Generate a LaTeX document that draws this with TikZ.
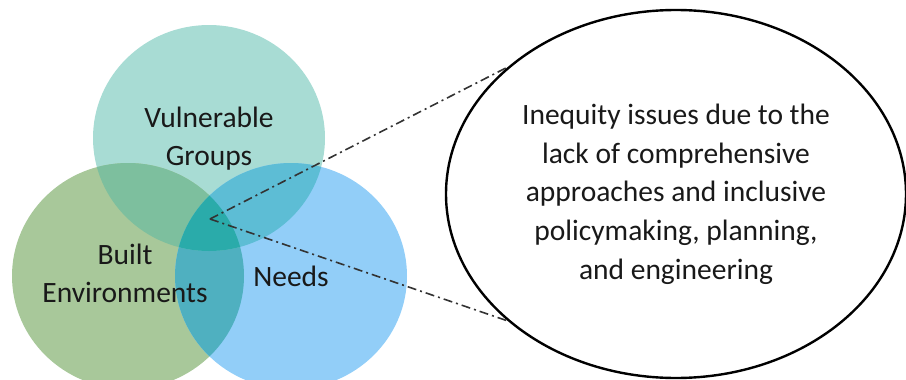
\documentclass[tikz,border=0pt]{standalone}
\usepackage{fontspec}
\setmainfont{Carlito}
\usetikzlibrary{shapes.geometric}

\definecolor{vgfill}{HTML}{A8DCD4}
\definecolor{befill}{HTML}{A8C89A}
\definecolor{ndfill}{HTML}{92CEF8}
\definecolor{vbfill}{HTML}{7DBF9E}
\definecolor{vnfill}{HTML}{5DBDD5}
\definecolor{bnfill}{HTML}{4FB0C0}
\definecolor{allfill}{HTML}{2AABAA}

\tikzstyle{venntext} = [align=center, text=black!90, font=\fontsize{29.5}{38.7}\selectfont]
\tikzstyle{bubble} = [ellipse, draw, line width=2.4pt, minimum width=460pt, minimum height=368pt, align=center, text=black!90, font=\fontsize{29.5}{38.7}\selectfont]
\tikzstyle{pointer} = [draw=black!80, line width=1.6pt, dash pattern=on 9pt off 4pt on 2pt off 4pt]
\tikzstyle{blob} = [x radius=116pt, y radius=113pt]

\begin{document}
\begin{tikzpicture}[x=1pt,y=-1pt]
  \useasboundingbox (0,0) rectangle (906,380);

  \coordinate (V) at (209,138);
  \coordinate (B) at (128,276);
  \coordinate (N) at (291,276);
  \coordinate (hub) at (210,219);

  % plain circles
  \fill[vgfill] (V) ellipse [blob];
  \fill[befill] (B) ellipse [blob];
  \fill[ndfill] (N) ellipse [blob];

  % overlaps
  \begin{scope}
    \clip (B) ellipse [blob];
    \fill[bnfill] (N) ellipse [blob];
  \end{scope}
  \begin{scope}
    \clip (V) ellipse [blob];
    \fill[vbfill] (B) ellipse [blob];
    \fill[vnfill] (N) ellipse [blob];
    \clip (B) ellipse [blob];
    \fill[allfill] (N) ellipse [blob];
  \end{scope}

  \node[venntext] (vg) at (209,138.5) {Vulnerable\\Groups};
  \node[venntext] (be) at (125,273.5) {Built\\Environments};
  \node[venntext] (nd) at (291,276) {Needs};

  \node[bubble] (ineq) at (676,194) {Inequity issues due to the\\lack of comprehensive\\approaches and inclusive\\policymaking, planning,\\and engineering};

  \path[pointer] (hub) edge (ineq.143);
  \path[pointer] (hub) edge (ineq.217);
\end{tikzpicture}
\end{document}
